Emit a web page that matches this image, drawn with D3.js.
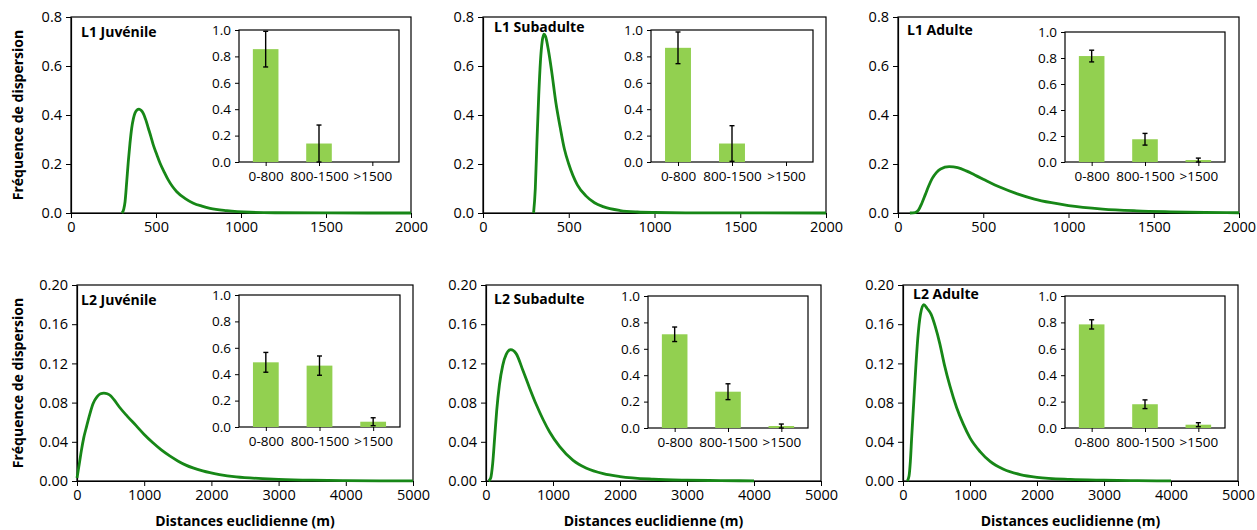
<!DOCTYPE html>
<html>
<head>
<meta charset="utf-8">
<script src="https://cdn.jsdelivr.net/npm/d3@7"></script>
<style>
  body { margin: 0; background: #fff; }
  svg { display: block; font-family: "Open Sans", sans-serif; }
</style>
</head>
<body>
<div id="chart"></div>
<script>
// Inset categories
const categories = ["0-800", "800-1500", ">1500"];

const titles = ["L1 Juvénile", "L1 Subadulte", "L1 Adulte", "L2 Juvénile", "L2 Subadulte", "L2 Adulte"];

// Dispersion curves, [distance (m), frequency]
const curveL1Juv = [[300,0],[310,0.015],[318,0.046],[328,0.13],[337,0.21],[347,0.285],[357,0.346],[367,0.385],[376,0.407],
  [388,0.42],[400,0.424],[412,0.419],[425,0.407],[440,0.38],[455,0.346],[470,0.312],[484,0.278],[505,0.238],[524,0.203],
  [550,0.165],[572,0.135],[597,0.108],[622,0.087],[670,0.06],[720,0.04],[770,0.028],[818,0.019],[916,0.0095],
  [1053,0.003],[1200,0.001],[1500,0.0003],[2000,0]];
const curveL1Sub = [[295,0],[305,0.1],[315,0.3],[325,0.48],[335,0.62],[345,0.7],[355,0.73],[365,0.72],[380,0.67],[400,0.58],
  [425,0.45],[450,0.35],[475,0.26],[500,0.2],[550,0.115],[600,0.07],[650,0.042],[700,0.026],[800,0.01],[900,0.004],
  [1000,0.002],[1250,0.0005],[2000,0]];
const curveL1Adu = [[70,0],[100,0.002],[120,0.012],[140,0.04],[160,0.075],[180,0.11],[200,0.14],[225,0.165],[250,0.18],
  [300,0.189],[350,0.185],[400,0.172],[450,0.155],[500,0.138],[600,0.105],[700,0.078],[800,0.057],[900,0.042],[1000,0.03],
  [1200,0.016],[1400,0.009],[1600,0.005],[1800,0.002],[2000,0.001]];
const curveL2Juv = [[0,0.003],[40,0.02],[65,0.031],[100,0.044],[140,0.055],[190,0.068],[240,0.079],[300,0.086],[350,0.089],
  [400,0.0897],[450,0.089],[500,0.087],[550,0.083],[630,0.0755],[750,0.066],[880,0.0565],[1000,0.0475],[1130,0.039],
  [1250,0.032],[1380,0.0256],[1500,0.0205],[1620,0.0162],[1870,0.0103],[2120,0.0066],[2370,0.0042],[2760,0.0024],
  [3000,0.0017],[3500,0.0008],[4000,0.0004],[4500,0.0002],[5000,0.0001]];
const curveL2Sub = [[40,0],[70,0.003],[100,0.018],[130,0.045],[160,0.072],[200,0.098],[250,0.118],[300,0.129],[370,0.134],
  [450,0.13],[550,0.113],[650,0.095],[750,0.078],[850,0.063],[950,0.05],[1100,0.035],[1300,0.021],[1500,0.013],
  [1750,0.0075],[2000,0.0045],[2500,0.0018],[3000,0.0008],[3500,0.0004],[4000,0.0002]];
const curveL2Adu = [[65,0],[90,0.005],[110,0.02],[130,0.045],[160,0.08],[190,0.115],[220,0.145],[260,0.17],[310,0.18],
  [360,0.176],[420,0.17],[480,0.158],[550,0.14],[620,0.118],[700,0.097],[800,0.075],[900,0.058],[1000,0.044],[1150,0.03],
  [1300,0.02],[1500,0.012],[1750,0.0065],[2000,0.0037],[2500,0.0016],[3000,0.0008],[3500,0.0003],[4000,0.0001]];

// Inset bars (proportion per distance class) and error bar half-widths
const barsL1Juv = [0.855, 0.14, 0];     const errL1Juv = [0.135, 0.14, 0];
const barsL1Sub = [0.865, 0.14, 0];     const errL1Sub = [0.12, 0.135, 0];
const barsL1Adu = [0.815, 0.175, 0.015]; const errL1Adu = [0.045, 0.045, 0.015];
const barsL2Juv = [0.49, 0.465, 0.04];  const errL2Juv = [0.075, 0.073, 0.03];
const barsL2Sub = [0.71, 0.275, 0.015]; const errL2Sub = [0.055, 0.06, 0.015];
const barsL2Adu = [0.785, 0.18, 0.025]; const errL2Adu = [0.035, 0.033, 0.015];

const curves = [curveL1Juv, curveL1Sub, curveL1Adu, curveL2Juv, curveL2Sub, curveL2Adu];
const bars = [barsL1Juv, barsL1Sub, barsL1Adu, barsL2Juv, barsL2Sub, barsL2Adu];
const errs = [errL1Juv, errL1Sub, errL1Adu, errL2Juv, errL2Sub, errL2Adu];

const xTicksTop = [0, 500, 1000, 1500, 2000];
const xTicksBottom = [0, 1000, 2000, 3000, 4000, 5000];
const yTicksTop = [0, 0.2, 0.4, 0.6, 0.8];
const yTicksBottom = [0, 0.04, 0.08, 0.12, 0.16, 0.2];
const yTicksInset = [0, 0.2, 0.4, 0.6, 0.8, 1.0];

const curveColor = "#178717";
const barColor = "#92d050";

// Layout of each panel (pixels)
const layout = [
  { x0: 71,  x1: 411,  y0: 17,  y1: 213, ix0: 239,  ix1: 399,  iy0: 30,  iy1: 162, tx: 81,  ty: 37 },
  { x0: 483, x1: 826,  y0: 17,  y1: 213, ix0: 651,  ix1: 813,  iy0: 30,  iy1: 162, tx: 494, ty: 32 },
  { x0: 898, x1: 1239, y0: 17,  y1: 213, ix0: 1065, ix1: 1225, iy0: 32,  iy1: 162, tx: 907, ty: 35 },
  { x0: 77,  x1: 413,  y0: 285, y1: 481, ix0: 239,  ix1: 400,  iy0: 295, iy1: 427, tx: 81,  ty: 305 },
  { x0: 486, x1: 821,  y0: 285, y1: 481, ix0: 648,  ix1: 808,  iy0: 296, iy1: 428, tx: 494, ty: 304 },
  { x0: 903, x1: 1238, y0: 285, y1: 481, ix0: 1065, ix1: 1225, iy0: 296, iy1: 428, tx: 913, ty: 299 }
];

const svg = d3.select("#chart").append("svg")
  .attr("width", 1257)
  .attr("height", 530);

layout.forEach((L, i) => {
  const top = i < 3;
  const g = svg.append("g");

  const x = d3.scaleLinear().domain([0, top ? 2000 : 5000]).range([L.x0, L.x1]);
  const y = d3.scaleLinear().domain([0, top ? 0.8 : 0.2]).range([L.y1, L.y0]);

  // plot box
  g.append("rect")
    .attr("x", L.x0).attr("y", L.y0)
    .attr("width", L.x1 - L.x0).attr("height", L.y1 - L.y0)
    .attr("fill", "none").attr("stroke", "#000").attr("stroke-width", 1.2);

  g.append("g")
    .attr("transform", `translate(0,${L.y1})`)
    .call(d3.axisBottom(x).tickValues(top ? xTicksTop : xTicksBottom).tickSize(5).tickSizeOuter(0).tickPadding(4).tickFormat(d3.format("d")))
    .call(a => a.selectAll("text").attr("font-size", 14.5).attr("font-family", "Open Sans").attr("fill", "#000"));

  g.append("g")
    .attr("transform", `translate(${L.x0},0)`)
    .call(d3.axisLeft(y).tickValues(top ? yTicksTop : yTicksBottom).tickSize(5).tickSizeOuter(0).tickPadding(4)
      .tickFormat(d3.format(top ? ".1f" : ".2f")))
    .call(a => a.selectAll("text").attr("font-size", 14.5).attr("font-family", "Open Sans").attr("fill", "#000"));

  g.selectAll(".domain").attr("stroke-width", 1.2);

  // dispersion curve
  const line = d3.line()
    .x(d => x(d[0]))
    .y(d => y(d[1]))
    .curve(d3.curveMonotoneX);

  g.append("path")
    .datum(curves[i])
    .attr("d", line)
    .attr("fill", "none")
    .attr("stroke", curveColor)
    .attr("stroke-width", 2.8)
    .attr("stroke-linejoin", "round");

  // panel title
  g.append("text")
    .attr("x", L.tx).attr("y", L.ty)
    .attr("font-size", 14).attr("font-weight", "bold")
    .text(titles[i]);

  // inset bar chart
  const ix = d3.scaleBand().domain(categories).range([L.ix0, L.ix1]).paddingInner(0.52).paddingOuter(0.26);
  const iy = d3.scaleLinear().domain([0, 1]).range([L.iy1, L.iy0]);

  g.append("rect")
    .attr("x", L.ix0).attr("y", L.iy0)
    .attr("width", L.ix1 - L.ix0).attr("height", L.iy1 - L.iy0)
    .attr("fill", "#fff").attr("stroke", "#000").attr("stroke-width", 1.2);

  g.selectAll(".bar")
    .data(categories)
    .join("rect")
    .attr("x", d => ix(d))
    .attr("width", ix.bandwidth())
    .attr("y", (d, j) => iy(bars[i][j]))
    .attr("height", (d, j) => iy(0) - iy(bars[i][j]))
    .attr("fill", barColor);

  const ex = d => ix(d) + ix.bandwidth() / 2;
  const eg = g.append("g").attr("stroke", "#000").attr("stroke-width", 1.4);
  categories.forEach((c, j) => {
    const e = errs[i][j];
    if (!e) return;
    const v = bars[i][j];
    const lo = Math.max(0, v - e), hi = v + e;
    eg.append("line").attr("x1", ex(c)).attr("x2", ex(c)).attr("y1", iy(lo)).attr("y2", iy(hi));
    eg.append("line").attr("x1", ex(c) - 2.5).attr("x2", ex(c) + 2.5).attr("y1", iy(lo)).attr("y2", iy(lo));
    eg.append("line").attr("x1", ex(c) - 2.5).attr("x2", ex(c) + 2.5).attr("y1", iy(hi)).attr("y2", iy(hi));
  });

  const icx = d3.scalePoint().domain(categories).range([L.ix0, L.ix1]).padding(0.5);
  g.append("g")
    .attr("transform", `translate(0,${L.iy1})`)
    .call(d3.axisBottom(icx).tickSize(4).tickSizeOuter(0).tickPadding(5))
    .call(a => a.select(".domain").remove())
    .call(a => a.selectAll("text").attr("font-size", 13.5).attr("font-family", "Open Sans").attr("fill", "#000"));

  g.append("g")
    .attr("transform", `translate(${L.ix0},0)`)
    .call(d3.axisLeft(iy).tickValues(yTicksInset).tickSize(4).tickSizeOuter(0).tickPadding(4).tickFormat(d3.format(".1f")))
    .call(a => a.select(".domain").remove())
    .call(a => a.selectAll("text").attr("font-size", 13.5).attr("font-family", "Open Sans").attr("fill", "#000"));

  // axis titles
  if (i % 3 === 0) {
    g.append("text")
      .attr("transform", `translate(18,${(L.y0 + L.y1) / 2}) rotate(-90)`)
      .attr("text-anchor", "middle")
      .attr("dy", "0.35em")
      .attr("font-size", 14).attr("font-weight", "bold")
      .text("Fréquence de dispersion");
  }
  if (!top) {
    g.append("text")
      .attr("x", (L.x0 + L.x1) / 2).attr("y", 526)
      .attr("text-anchor", "middle")
      .attr("font-size", 14).attr("font-weight", "bold")
      .text("Distances euclidienne (m)");
  }
});
</script>
</body>
</html>
